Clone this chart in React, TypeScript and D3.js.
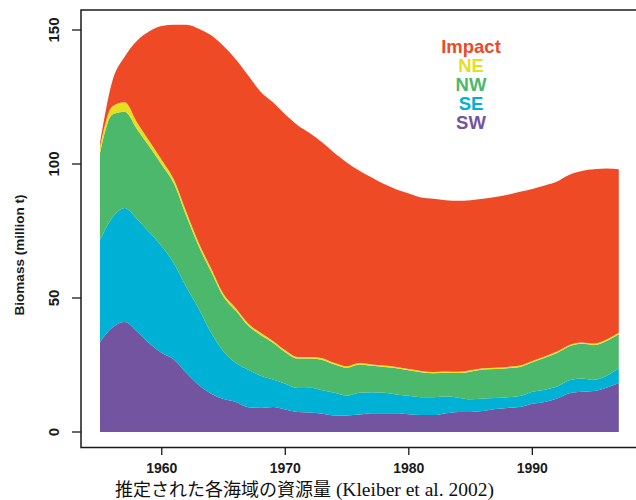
import React from "react";
import * as d3 from "d3";

const years = d3.range(1955, 1998);

// estimated from the figure, million t
const sw = [33.6, 39, 41, 37.5, 33, 29.5, 27, 22, 17.5, 14.3, 12.3, 11.2, 9.2, 9, 9.3, 8.4, 7.5, 7.3, 6.8, 6.2, 6.2, 6.5, 7, 7, 7, 6.6, 6.3, 6.3, 7, 7.5, 7.5, 7.8, 8.6, 9, 9.3, 10.5, 11.2, 12.5, 14.5, 15, 15.3, 16.5, 18.3];
const se = [38, 41, 42.6, 42, 41.5, 39.8, 35.8, 32, 28.5, 22.7, 17.7, 14.5, 14, 12, 10.3, 9.6, 8.9, 9.2, 8.8, 8.4, 7.3, 8.1, 7.8, 7.6, 7, 6.9, 6.7, 6.7, 6.2, 5.3, 4.7, 4.7, 4.1, 4, 4.1, 4.5, 4.6, 4.5, 4.8, 5, 4.2, 4.5, 5.6];
const nw = [32.4, 38.5, 35.9, 33.5, 32, 30.4, 29.7, 26.5, 23.2, 22.8, 20.5, 19.5, 16.4, 15.2, 13.7, 11.8, 11, 10.9, 11.3, 10.6, 10.5, 10.6, 9.9, 9.7, 9.8, 9.5, 9.3, 8.9, 8.9, 9.2, 10.3, 10.8, 10.8, 10.8, 10.9, 11, 11.9, 12.5, 12.7, 12.9, 13, 13, 12.6];
const ne = [2.5, 3, 3.5, 2.5, 2, 1.8, 1.5, 1.5, 1.3, 1.2, 1, 1, 0.9, 0.8, 0.7, 0.7, 0.6, 0.6, 0.6, 0.5, 0.5, 0.5, 0.5, 0.5, 0.5, 0.5, 0.5, 0.5, 0.5, 0.5, 0.5, 0.5, 0.5, 0.5, 0.5, 0.5, 0.5, 0.5, 0.5, 0.5, 0.5, 0.5, 0.5];
const impact = [1.5, 9.5, 17, 30.5, 41, 50, 58, 70, 80, 87, 92.5, 92.8, 92.5, 90, 89, 88, 86.5, 83.5, 80.5, 78.3, 76, 71.8, 69.8, 67.7, 66.2, 65.5, 64.7, 64.6, 63.9, 63.8, 63.5, 63.2, 63.7, 64.2, 64.8, 64.2, 63.8, 63.5, 63.5, 64, 65, 63.8, 61];

const keys = ["SW", "SE", "NW", "NE", "Impact"];
const colors = {
  Impact: "#ee4a26",
  NE: "#e6df1f",
  NW: "#4cb86b",
  SE: "#00b1d6",
  SW: "#7254a0",
};
const legendOrder = ["Impact", "NE", "NW", "SE", "SW"];
const yTicks = [0, 50, 100, 150];
const xTicks = [1960, 1970, 1980, 1990];

export default function App() {
  const rows = years.map((yr, i) => ({
    year: yr, SW: sw[i], SE: se[i], NW: nw[i], NE: ne[i], Impact: impact[i],
  }));

  const x = d3.scaleLinear().domain([1955, 1997]).range([100, 618.8]);
  const y = d3.scaleLinear().domain([0, 150]).range([432, 30]);

  const stack = d3.stack().keys(keys);
  const series = stack(rows as any);

  const area = d3.area<any>()
    .x((d) => x(d.data.year))
    .y0((d) => y(d[0]))
    .y1((d) => y(d[1]))
    .curve(d3.curveMonotoneX);

  const axisFont = "'Liberation Sans', Arial, sans-serif";

  return (
    <svg width={636} height={500} style={{ position: "absolute", left: 0, top: 0, background: "#fff" }}>
      {series.map((s) => (
        <path key={s.key} d={area(s) || ""} fill={colors[s.key]} />
      ))}

      {/* frame */}
      <rect x={81} y={10} width={620} height={437.5} fill="none" stroke="#1a1a1a" strokeWidth={1.5} />

      {/* y axis */}
      {yTicks.map((t) => (
        <g key={t}>
          <line x1={72} x2={81} y1={y(t)} y2={y(t)} stroke="#1a1a1a" strokeWidth={1.3} />
          <text
            transform={`translate(59,${y(t)}) rotate(-90)`}
            textAnchor="middle"
            fontFamily={axisFont}
            fontWeight="bold"
            fontSize={15}
            fill="#1a1a1a"
          >{t}</text>
        </g>
      ))}
      <text
        transform="translate(24,255) rotate(-90)"
        textAnchor="middle"
        fontFamily={axisFont}
        fontWeight="bold"
        fontSize={13.5}
        fill="#1a1a1a"
      >Biomass (million t)</text>

      {/* x axis */}
      {xTicks.map((t) => (
        <g key={t}>
          <line x1={x(t)} x2={x(t)} y1={447.5} y2={455} stroke="#1a1a1a" strokeWidth={1.3} />
          <text
            x={x(t)}
            y={473}
            textAnchor="middle"
            fontFamily={axisFont}
            fontWeight="bold"
            fontSize={14}
            fill="#1a1a1a"
          >{t}</text>
        </g>
      ))}

      {/* legend */}
      {legendOrder.map((k, i) => (
        <text
          key={k}
          x={471}
          y={52.5 + i * 19.2}
          textAnchor="middle"
          fontFamily={axisFont}
          fontWeight="bold"
          fontSize={18.5}
          fill={colors[k]}
        >{k}</text>
      ))}

      <text x={115} y={496} fill="#111">
        <tspan fontFamily="'Noto Sans CJK JP', sans-serif" fontSize={18}>推定された各海域の資源量</tspan>
        <tspan fontFamily="'Liberation Serif', serif" fontSize={19.5}> (Kleiber et al. 2002)</tspan>
      </text>
    </svg>
  );
}
